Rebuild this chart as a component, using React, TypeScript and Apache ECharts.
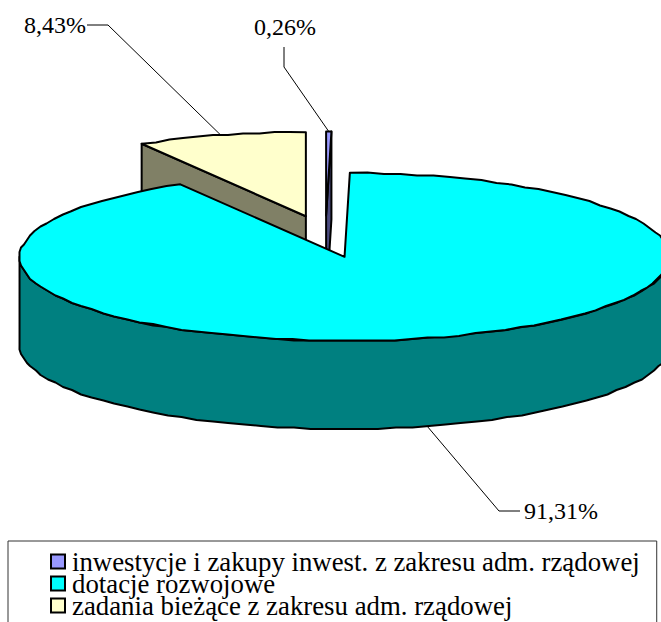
import React, { useEffect, useRef } from "react";
import * as echarts from "echarts";

const categories = [
  "inwestycje i zakupy inwest. z zakresu adm. rządowej",
  "dotacje rozwojowe",
  "zadania bieżące z zakresu adm. rządowej",
];
const values = [0.26, 91.31, 8.43];
const valueLabels = ["0,26%", "91,31%", "8,43%"];
const topColors = ["#9999FF", "#00FFFF", "#FFFFCC"];
const sideColors = ["#4C4C80", "#008080", "#808066"];
const drawOrder = [0, 2, 1];

const FONT = '"Liberation Serif", "Times New Roman", serif';
const CX = 325.5, CY = 236.5, RX = 325, RY = 84, DEPTH = 88, EXPLODE_X = 75, EXPLODE_Y = 21;
const GRID = 1.5;
const labelPlace = [
  { x: 285, y: 27, align: "center", elbow: [[284, 47], [284, 67]], depth: false },
  { x: 524, y: 511, align: "left", elbow: [[520, 511], [499, 511]], depth: true },
  { x: 24, y: 25, align: "left", elbow: [[87, 25], [108, 25]], depth: false },
];
const total = values.reduce((a, b) => a + b, 0);

function snap(v: number) {
  return Math.round(v / GRID) * GRID;
}

function sliceItem(index: number) {
  return (_params: any, api: any) => {
    const value = api.value(0);
    const before = values.slice(0, index).reduce((a, b) => a + b, 0);
    const a0 = (before / total) * Math.PI * 2;
    const a1 = a0 + (value / total) * Math.PI * 2;
    const mid = (a0 + a1) / 2;
    const ox = CX + EXPLODE_X * Math.sin(mid);
    const oy = CY - EXPLODE_Y * Math.cos(mid);
    const pt = (a: number, dz = 0): [number, number] => [ox + RX * Math.sin(a), oy - RY * Math.cos(a) + dz];
    const arc = (s: number, e: number, dz = 0, rough = true) => {
      const n = Math.max(1, Math.ceil(Math.abs(e - s) / (Math.PI / 60)));
      const out: [number, number][] = [];
      for (let i = 0; i <= n; i++) {
        const p = pt(s + ((e - s) * i) / n, dz);
        out.push(rough && i > 0 && i < n ? [snap(p[0]), snap(p[1])] : p);
      }
      return out;
    };
    const line = { stroke: "#000", lineWidth: 2, lineJoin: "round" };
    const children: any[] = [];
    const wall = (a: number) =>
      children.push({
        type: "polygon",
        shape: { points: [[ox, oy], pt(a), pt(a, DEPTH), [ox, oy + DEPTH]] },
        style: { fill: sideColors[index], ...line },
      });
    if (Math.sin(a0) < -1e-6) wall(a0);
    if (Math.sin(a1) > 1e-6) wall(a1);
    const s = Math.max(a0, Math.PI / 2);
    const e = Math.min(a1, (Math.PI * 3) / 2);
    if (e > s) {
      children.push({
        type: "polygon",
        shape: { points: [...arc(s, e), ...arc(e, s, DEPTH)] },
        style: { fill: sideColors[index], ...line },
      });
    }
    children.push({
      type: "polygon",
      shape: { points: [[ox, oy], ...arc(a0, a1)] },
      style: { fill: topColors[index], ...line },
    });
    const place = labelPlace[index];
    children.push({
      type: "polyline",
      shape: { points: [...place.elbow, pt(mid, place.depth ? DEPTH : 0)] },
      style: { stroke: "#000", lineWidth: 1, fill: "none" },
    });
    children.push({
      type: "text",
      style: {
        text: valueLabels[index],
        x: place.x,
        y: place.y,
        align: place.align,
        verticalAlign: "middle",
        fontFamily: FONT,
        fontSize: 24,
        fill: "#000",
      },
    });
    return { type: "group", children };
  };
}

export default function App() {
  const ref = useRef<HTMLDivElement>(null);
  useEffect(() => {
    document.body.style.margin = "0";
    document.body.style.background = "#fff";
    const chart = echarts.init(ref.current!, undefined, { renderer: "svg" });
    chart.setOption({
      animation: false,
      backgroundColor: "#fff",
      legend: {
        orient: "vertical",
        left: 8,
        top: 541,
        height: 400,
        padding: [7, 17, 60, 42],
        borderColor: "#333",
        borderWidth: 1,
        itemGap: -5,
        itemWidth: 14,
        itemHeight: 14,
        selectedMode: false,
        icon: "rect",
        align: "left",
        textStyle: { fontFamily: FONT, fontSize: 26.8, color: "#000", padding: [0, 0, 0, 2] },
        data: categories.map((name, i) => ({
          name,
          itemStyle: { color: topColors[i], borderColor: "#000", borderWidth: 2 },
        })),
      },
      series: drawOrder.map((i) => ({
        type: "custom",
        name: categories[i],
        coordinateSystem: "none",
        clip: false,
        itemStyle: { color: topColors[i] },
        data: [[values[i]]],
        renderItem: sliceItem(i),
      })),
    });
    return () => chart.dispose();
  }, []);
  return <div ref={ref} style={{ width: 661, height: 622 }} />;
}
